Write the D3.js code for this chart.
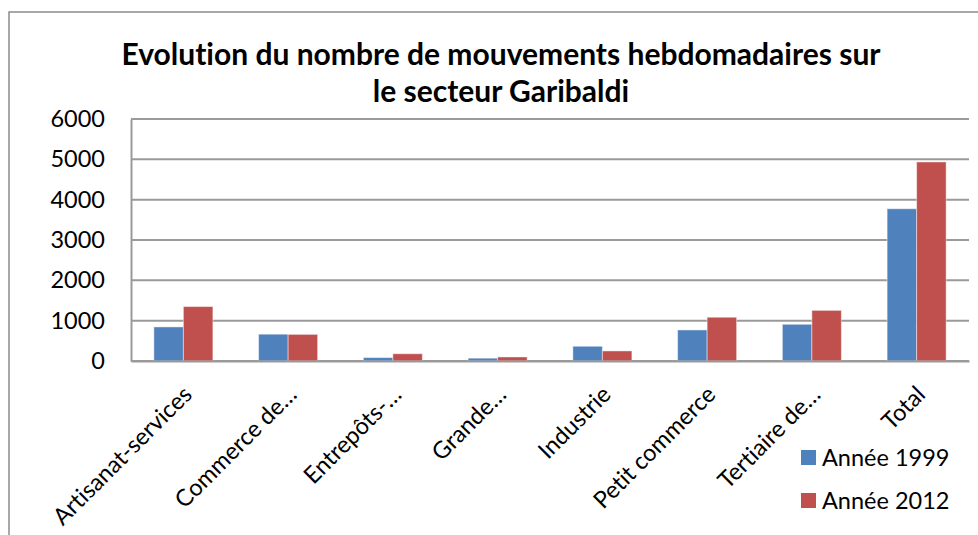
<!DOCTYPE html>
<html>
<head>
<meta charset="utf-8">
<script src="https://cdn.jsdelivr.net/npm/d3@7"></script>
<style>
  html, body { margin: 0; padding: 0; background: #fff; }
  svg { display: block; font-family: Lato, "Open Sans", sans-serif; font-variant-ligatures: none; }
</style>
</head>
<body>
<svg id="chart" width="978" height="535"></svg>
<script>
// Weekly movements per activity sector, Garibaldi sector
const categories = ["Artisanat-services", "Commerce de…", "Entrepôts-…", "Grande…", "Industrie", "Petit commerce", "Tertiaire de…", "Total"];
const values1999 = [845, 665, 85, 70, 365, 770, 910, 3775];
const values2012 = [1350, 660, 180, 100, 250, 1085, 1255, 4935];
const seriesNames = ["Année 1999", "Année 2012"];
const seriesColors = ["#4F81BD", "#C0504D"];
const yTicks = [0, 1000, 2000, 3000, 4000, 5000, 6000];
const titleLines = ["Evolution du nombre de mouvements hebdomadaires sur", "le secteur Garibaldi"];

const svg = d3.select("#chart");
const W = 978, H = 535;
const plot = { left: 131, right: 969, top: 119, bottom: 361 };
const labelSize = 23.5;

// outer chart frame
svg.append("rect")
  .attr("x", 9).attr("y", 12)
  .attr("width", W + 10).attr("height", H + 10)
  .attr("fill", "#fff").attr("stroke", "#8c8c8c").attr("stroke-width", 1.5);

// title
svg.append("g").selectAll("text").data(titleLines).join("text")
  .attr("x", 501).attr("y", (d, i) => 65 + i * 37)
  .attr("text-anchor", "middle")
  .attr("font-weight", "bold").attr("font-size", 30)
  .attr("fill", "#000")
  .text(d => d);

const x0 = d3.scaleBand().domain(categories).range([plot.left, plot.right]).paddingInner(0).paddingOuter(0);
const x1 = d3.scaleBand().domain(seriesNames).range([0, x0.bandwidth()]).paddingInner(0).paddingOuter(0.775);
const y = d3.scaleLinear().domain([0, 6000]).range([plot.bottom, plot.top]);

// gridlines
svg.append("g").selectAll("line").data(yTicks).join("line")
  .attr("x1", plot.left).attr("x2", plot.right)
  .attr("y1", d => y(d)).attr("y2", d => y(d))
  .attr("stroke", "#9a9a9a").attr("stroke-width", 2);

// y axis
const yAxis = svg.append("g")
  .attr("transform", `translate(${plot.left},0)`)
  .call(d3.axisLeft(y).tickValues(yTicks).tickSize(0).tickPadding(26).tickFormat(d3.format("d")));
yAxis.select(".domain").attr("stroke", "#9a9a9a").attr("stroke-width", 2);
yAxis.selectAll("text").attr("font-size", labelSize).attr("fill", "#000").attr("font-family", "Lato, sans-serif");

// bars
const rows = categories.map((c, i) => ({ cat: c, vals: [values1999[i], values2012[i]] }));
const groups = svg.append("g").selectAll("g").data(rows).join("g")
  .attr("transform", d => `translate(${x0(d.cat)},0)`);
groups.selectAll("rect").data(d => d.vals.map((v, k) => ({ v, k })))
  .join("rect")
  .attr("x", d => x1(seriesNames[d.k]))
  .attr("width", x1.bandwidth())
  .attr("y", d => y(d.v))
  .attr("height", d => y(0) - y(d.v))
  .attr("fill", d => seriesColors[d.k])
  .attr("stroke", "rgba(255,255,255,0.45)").attr("stroke-width", 1);

// x axis with rotated category labels
const xAxis = svg.append("g")
  .attr("transform", `translate(0,${plot.bottom})`)
  .call(d3.axisBottom(x0).tickSize(0).tickPadding(0));
xAxis.select(".domain").attr("stroke", "#9a9a9a").attr("stroke-width", 2);
xAxis.selectAll("text")
  .attr("font-size", labelSize).attr("fill", "#000").attr("font-family", "Lato, sans-serif")
  .attr("text-anchor", "end")
  .attr("dy", null).attr("y", null)
  .attr("transform", "translate(10,35) rotate(-45)");

// legend
const legend = svg.append("g").selectAll("g").data(seriesNames).join("g")
  .attr("transform", (d, i) => `translate(801,${450 + i * 43})`);
legend.append("rect").attr("width", 15).attr("height", 15).attr("fill", (d, i) => seriesColors[i]);
legend.append("text").attr("x", 21).attr("y", 16).attr("font-size", labelSize).attr("fill", "#000").text(d => d);
</script>
</body>
</html>
